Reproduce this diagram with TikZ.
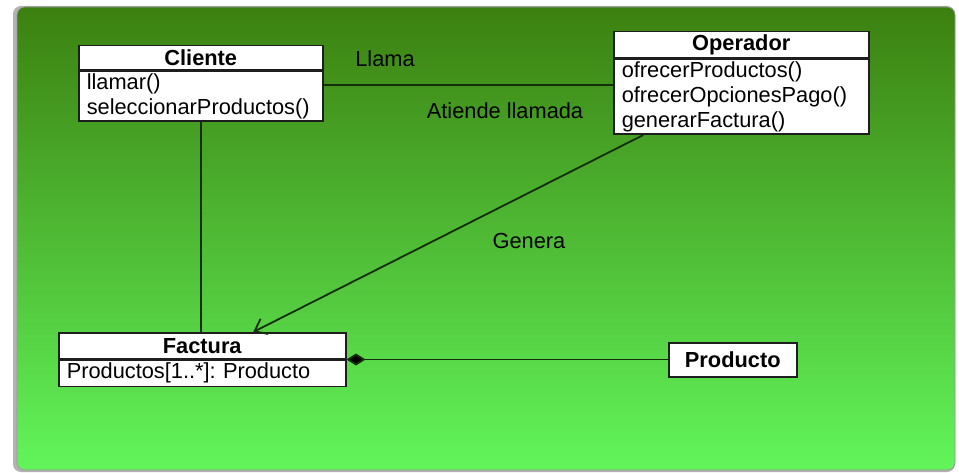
\documentclass[tikz,border=0pt]{standalone}
\usepackage{fontspec}
\setmainfont{Liberation Sans}
\usetikzlibrary{arrows.meta,positioning}
\definecolor{gtop}{RGB}{60,128,16}
\definecolor{gbot}{RGB}{98,245,90}
\definecolor{lnc}{RGB}{20,45,10}
\definecolor{boxc}{RGB}{30,30,30}
\tikzset{
  umlhdr/.style={draw=boxc, line width=1.5pt, fill=white, inner sep=0pt, align=center, font=\bfseries},
  umlbody/.style={draw=boxc, line width=1.5pt, fill=white, inner xsep=8pt, inner ysep=0pt, align=left},
  conn/.style={draw=lnc, line width=1.8pt},
  lbl/.style={inner sep=0pt, text=black}
}
\begin{document}
\frenchspacing
\fontsize{21.8}{25}\selectfont
\begin{tikzpicture}[x=1pt,y=-1pt]
\useasboundingbox (0,0) rectangle (959,473);
\fill[white] (0,0) rectangle (959,473);
% shadow and background
\fill[black!30, rounded corners=8pt] (13,6) rectangle (955,472);
\shade[top color=gtop, bottom color=gbot, rounded corners=8pt, draw=black!40, line width=0.6pt] (17,7) rectangle (955,470);
% Cliente
\node[umlhdr, minimum width=244pt, minimum height=24pt, anchor=north west] (clienteH) at (78,45) {Cliente};
\node[umlbody, text width=228pt, minimum height=50pt, anchor=north] (clienteB) at (clienteH.south) {llamar()\\seleccionarProductos()};
% Operador
\node[umlhdr, minimum width=255pt, minimum height=26pt, anchor=north west] (operadorH) at (613,31) {Operador};
\node[umlbody, text width=239pt, minimum height=75pt, anchor=north] (operadorB) at (operadorH.south) {ofrecerProductos()\\ofrecerOpcionesPago()\\generarFactura()};
% Factura
\node[umlhdr, minimum width=287pt, minimum height=26pt, anchor=north west] (facturaH) at (58,332) {Factura};
\node[umlbody, text width=271pt, minimum height=26pt, anchor=north] (facturaB) at (facturaH.south) {Productos[1..*]: Producto};
% Producto
\node[umlhdr, minimum width=128pt, minimum height=34pt, anchor=north west] (producto) at (668,342) {Producto};
% connectors
\draw[conn] ([yshift=11pt]clienteB.east) -- ([yshift=11pt]clienteB.east -| operadorB.west);
\draw[conn] (clienteB.south) -- (clienteB.south |- facturaH.north);
\draw[conn, -{Straight Barb[length=11pt,width=17pt,line width=1.8pt]}] ([xshift=-98pt]operadorB.south) -- ([xshift=51pt]facturaH.north);
\draw[conn, {Diamond[length=19pt,width=12pt,fill=black]}-] (facturaH.south east) -- (facturaH.south east -| producto.west);
% labels
\node[lbl] (llama) at (385,59) {Llama};
\node[lbl] (atiende) at (505,111) {Atiende llamada};
\node[lbl] (genera) at (529,241) {Genera};
\end{tikzpicture}
\end{document}
